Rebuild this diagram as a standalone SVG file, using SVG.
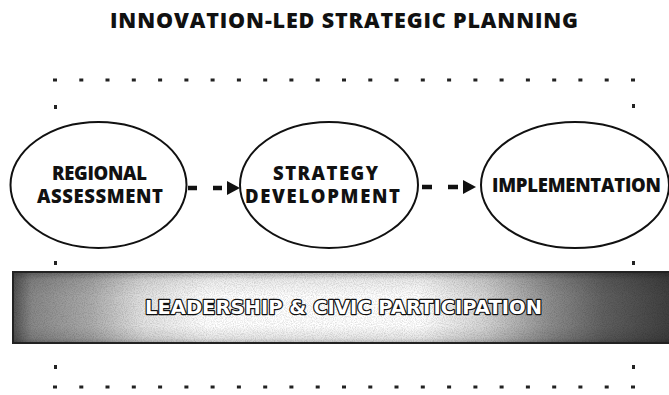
<svg xmlns="http://www.w3.org/2000/svg" width="669" height="395" viewBox="0 0 669 395">
  <style>
    .title { font-family: "Open Sans", "Noto Sans", "Liberation Sans", sans-serif; font-weight: 800; font-size: 21.5px; fill: #111; }
    .node-shape { fill: #fff; stroke: #111; stroke-width: 2; }
    .node-label { font-family: "Open Sans", "Noto Sans", "Liberation Sans", sans-serif; font-weight: 800; font-size: 18.5px; fill: #111; text-anchor: middle; }
    .conn { stroke: #111; stroke-width: 4.5; fill: none; }
    .dot { fill: #222; }
    .banner-label { font-family: "DejaVu Sans", "Open Sans", sans-serif; font-weight: 700; font-size: 19.5px; fill: #fff; stroke: #111; stroke-width: 2.4; paint-order: stroke; stroke-linejoin: round; text-anchor: middle; }
  </style>
  <defs>
    <marker id="tri" markerUnits="userSpaceOnUse" viewBox="0 0 13 14" refX="-3" refY="7" markerWidth="13" markerHeight="14" orient="auto">
      <path d="M0,0 L13,7 L0,14 Z" fill="#111"/>
    </marker>
    <linearGradient id="bannerH" x1="0" y1="0" x2="1" y2="0">
      <stop offset="0" stop-color="#505050"/>
      <stop offset="0.03" stop-color="#888"/>
      <stop offset="0.12" stop-color="#ababab"/>
      <stop offset="0.2" stop-color="#e2e2e2"/>
      <stop offset="0.3" stop-color="#ffffff"/>
      <stop offset="0.62" stop-color="#ffffff"/>
      <stop offset="0.72" stop-color="#d4d4d4"/>
      <stop offset="0.82" stop-color="#8c8c8c"/>
      <stop offset="0.9" stop-color="#606060"/>
      <stop offset="1" stop-color="#404040"/>
    </linearGradient>
    <linearGradient id="bannerV" x1="0" y1="0" x2="0" y2="1">
      <stop offset="0" stop-color="#000" stop-opacity="0.35"/>
      <stop offset="0.12" stop-color="#000" stop-opacity="0.08"/>
      <stop offset="0.35" stop-color="#000" stop-opacity="0"/>
      <stop offset="0.75" stop-color="#000" stop-opacity="0"/>
      <stop offset="0.92" stop-color="#000" stop-opacity="0.1"/>
      <stop offset="1" stop-color="#000" stop-opacity="0.3"/>
    </linearGradient>
    <filter id="grain" x="0" y="0" width="100%" height="100%">
      <feTurbulence type="fractalNoise" baseFrequency="0.9" numOctaves="2" seed="3" result="n"/>
      <feColorMatrix in="n" type="matrix" values="0 0 0 0 0  0 0 0 0 0  0 0 0 0 0  0 0 0 -1.6 1.0" result="a"/>
      <feComposite in="a" in2="SourceGraphic" operator="in"/>
    </filter>
  </defs>

  <rect width="669" height="395" fill="#fff"/>

  <text class="title" x="110" y="28" textLength="468" lengthAdjust="spacing">INNOVATION-LED STRATEGIC PLANNING</text>

  <g id="frame-dots">
    <rect class="dot" x="53" y="78.5" width="4" height="3"/><rect class="dot" x="79.3" y="78.5" width="4" height="3"/><rect class="dot" x="105.5" y="78.5" width="4" height="3"/><rect class="dot" x="131.8" y="78.5" width="4" height="3"/><rect class="dot" x="158.1" y="78.5" width="4" height="3"/><rect class="dot" x="184.4" y="78.5" width="4" height="3"/><rect class="dot" x="210.6" y="78.5" width="4" height="3"/><rect class="dot" x="236.9" y="78.5" width="4" height="3"/><rect class="dot" x="263.2" y="78.5" width="4" height="3"/><rect class="dot" x="289.4" y="78.5" width="4" height="3"/><rect class="dot" x="315.7" y="78.5" width="4" height="3"/><rect class="dot" x="342" y="78.5" width="4" height="3"/><rect class="dot" x="368.3" y="78.5" width="4" height="3"/><rect class="dot" x="394.5" y="78.5" width="4" height="3"/><rect class="dot" x="420.8" y="78.5" width="4" height="3"/><rect class="dot" x="447.1" y="78.5" width="4" height="3"/><rect class="dot" x="473.4" y="78.5" width="4" height="3"/><rect class="dot" x="499.6" y="78.5" width="4" height="3"/><rect class="dot" x="525.9" y="78.5" width="4" height="3"/><rect class="dot" x="552.2" y="78.5" width="4" height="3"/><rect class="dot" x="578.4" y="78.5" width="4" height="3"/><rect class="dot" x="604.7" y="78.5" width="4" height="3"/><rect class="dot" x="631" y="78.5" width="4" height="3"/>
    <rect class="dot" x="53" y="385.5" width="4" height="3"/><rect class="dot" x="79.3" y="385.5" width="4" height="3"/><rect class="dot" x="105.5" y="385.5" width="4" height="3"/><rect class="dot" x="131.8" y="385.5" width="4" height="3"/><rect class="dot" x="158.1" y="385.5" width="4" height="3"/><rect class="dot" x="184.4" y="385.5" width="4" height="3"/><rect class="dot" x="210.6" y="385.5" width="4" height="3"/><rect class="dot" x="236.9" y="385.5" width="4" height="3"/><rect class="dot" x="263.2" y="385.5" width="4" height="3"/><rect class="dot" x="289.4" y="385.5" width="4" height="3"/><rect class="dot" x="315.7" y="385.5" width="4" height="3"/><rect class="dot" x="342" y="385.5" width="4" height="3"/><rect class="dot" x="368.3" y="385.5" width="4" height="3"/><rect class="dot" x="394.5" y="385.5" width="4" height="3"/><rect class="dot" x="420.8" y="385.5" width="4" height="3"/><rect class="dot" x="447.1" y="385.5" width="4" height="3"/><rect class="dot" x="473.4" y="385.5" width="4" height="3"/><rect class="dot" x="499.6" y="385.5" width="4" height="3"/><rect class="dot" x="525.9" y="385.5" width="4" height="3"/><rect class="dot" x="552.2" y="385.5" width="4" height="3"/><rect class="dot" x="578.4" y="385.5" width="4" height="3"/><rect class="dot" x="604.7" y="385.5" width="4" height="3"/><rect class="dot" x="631" y="385.5" width="4" height="3"/>
    <rect class="dot" x="54" y="105" width="3" height="4"/><rect class="dot" x="54" y="261" width="3" height="4"/><rect class="dot" x="54" y="365" width="3" height="4"/>
    <rect class="dot" x="632" y="104" width="3" height="4"/><rect class="dot" x="632" y="261" width="3" height="4"/><rect class="dot" x="632" y="365" width="3" height="4"/>
  </g>

  <g id="connectors">
    <line class="conn" x1="188" y1="188" x2="224" y2="188" stroke-dasharray="9 16" marker-end="url(#tri)"/>
    <line class="conn" x1="422" y1="187" x2="460" y2="187" stroke-dasharray="10 16" marker-end="url(#tri)"/>
  </g>

  <g id="node-regional-assessment">
    <ellipse class="node-shape" cx="98.5" cy="185" rx="88" ry="63"/>
    <text class="node-label" x="99.5" y="180" textLength="95" lengthAdjust="spacing">REGIONAL</text>
    <text class="node-label" x="100" y="203" textLength="126" lengthAdjust="spacing">ASSESSMENT</text>
  </g>

  <g id="node-strategy-development">
    <ellipse class="node-shape" cx="329" cy="185" rx="89" ry="63"/>
    <text class="node-label" x="325.5" y="180" textLength="105" lengthAdjust="spacing">STRATEGY</text>
    <text class="node-label" x="322.5" y="203" textLength="155" lengthAdjust="spacing">DEVELOPMENT</text>
  </g>

  <g id="node-implementation">
    <ellipse class="node-shape" cx="575" cy="185" rx="94" ry="63"/>
    <text class="node-label" x="576.5" y="192" textLength="169" lengthAdjust="spacing">IMPLEMENTATION</text>
  </g>

  <g id="banner-leadership">
    <rect x="12" y="271" width="657" height="73" fill="url(#bannerH)"/>
    <rect x="12" y="271" width="657" height="73" fill="url(#bannerV)"/>
    <rect x="12" y="271" width="657" height="73" fill="#000" filter="url(#grain)" opacity="0.18"/>
    <line x1="12" y1="272" x2="669" y2="272" stroke="#222" stroke-width="2"/>
    <line x1="12" y1="343" x2="669" y2="343" stroke="#222" stroke-width="2"/>
    <line x1="13" y1="271" x2="13" y2="344" stroke="#222" stroke-width="2"/>
    <text class="banner-label" x="343.5" y="314" textLength="397" lengthAdjust="spacing">LEADERSHIP &amp; CIVIC PARTICIPATION</text>
  </g>
</svg>
